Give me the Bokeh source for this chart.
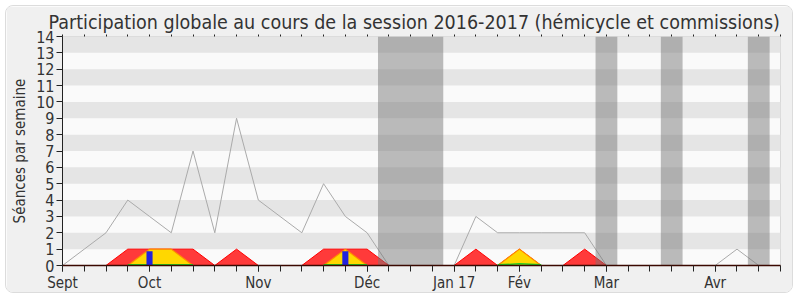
import math
from bokeh.plotting import figure
from bokeh.models import FixedTicker, LinearAxis
from bokeh.embed import file_html
from bokeh.resources import INLINE

nan = float("nan")

# ---- data (week index 0 = first week of September 2016) ----
weeks = list(range(0, 34))
month_weeks = [0, 4, 9, 14, 18, 21, 25, 30]
month_labels = ["Sept", "Oct", "Nov", "Déc", "Jan 17", "Fév", "Mar", "Avr"]

# grey line: activity of the whole assembly (séances per week)
total = [0, 1, 2, 4, 3, 2, 7, 2, 9, 4, 3, 2, 5, 3, 2, 0, 0, 0,
         0, 3, 2, 2, 2, 2, 2, 0, 0, 0, 0, 0, 0, 1, 0, 0]
# red area: présences (commissions)
presence = [0, 0, 0, 1, 1, 1, 1, 0, 1, 0, 0, 0, 1, 1, 1, 0, 0, 0,
            0, 1, 0, 1, 0, 0, 1, 0, 0, 0, 0, 0, 0, 0, 0, 0]
# yellow area: présences hémicycle
hemicycle = [0, 0, 0, 0, 1, 1, 0, 0, 0, 0, 0, 0, 0, 1, 0, 0, 0, 0,
             0, 0, 0, 1, 0, 0, 0, 0, 0, 0, 0, 0, 0, 0, 0, 0]
# green line: small values
green = [nan, nan, nan, 0.05, 0.05, 0.05, 0.05, nan, nan, nan, nan, nan, 0.05, 0.05, 0.05, nan, nan, nan,
         nan, nan, 0.04, 0.1, 0.04, nan, nan, nan, nan, nan, nan, nan, nan, nan, nan, nan]
# blue bars: interventions
blue_weeks = [4, 13]
blue_values = [0.87, 0.87]
# holidays (grey bands, in weeks)
vac_start = [14.5, 24.5, 27.5, 31.5]
vac_end = [17.5, 25.5, 28.5, 32.5]

FONT = "DejaVu Sans Condensed"
TXT = "#333333"

p = figure(width=788, height=288, x_range=(0, 33), y_range=(0, 14),
           output_backend="svg", toolbar_location=None,
           min_border_left=56, min_border_right=14, min_border_top=30, min_border_bottom=28,
           x_axis_location=None, y_axis_location=None)
p.styles = {"margin-left": "5px", "margin-top": "5px", "border": "1px solid #dcdcdc",
            "border-radius": "8px", "overflow": "hidden"}
p.border_fill_color = "#f0f0f0"
p.background_fill_color = "#fafafa"
p.outline_line_color = "#d8d8d8"

p.title.text = "Participation globale au cours de la session 2016-2017 (hémicycle et commissions)"
p.title.text_font = FONT
p.title.text_font_size = "19.5px"
p.title.text_font_style = "normal"
p.title.text_color = TXT
p.title.align = "left"
p.title.offset = -14
p.title.standoff = 2

# axes
xaxis = LinearAxis(ticker=FixedTicker(ticks=month_weeks, minor_ticks=weeks))
xaxis.major_label_overrides = {w: lab for w, lab in zip(month_weeks, month_labels)}
xaxis.major_label_text_font = FONT
xaxis.major_label_text_font_size = "15px"
xaxis.major_label_text_color = TXT
xaxis.major_tick_out = 6
xaxis.major_tick_in = 0
xaxis.minor_tick_out = 6
xaxis.minor_tick_in = 0
xaxis.minor_tick_line_color = "#222222"
xaxis.axis_line_color = "#3a0800"
xaxis.axis_line_width = 1.5
xaxis.major_tick_line_color = "#222222"
xaxis.major_label_standoff = 2
p.add_layout(xaxis, "below")

top = LinearAxis(ticker=FixedTicker(ticks=[], minor_ticks=weeks))
top.major_label_standoff = 0
top.axis_line_color = None
top.major_tick_line_color = None
top.minor_tick_out = 2
top.minor_tick_in = 0
top.minor_tick_line_color = "#222222"
p.add_layout(top, "above")

yaxis = LinearAxis(ticker=FixedTicker(ticks=list(range(0, 15))))
yaxis.major_label_text_font = FONT
yaxis.major_label_text_font_size = "16px"
yaxis.major_label_text_color = TXT
yaxis.major_tick_out = 6
yaxis.major_tick_in = 0
yaxis.minor_tick_line_color = None
yaxis.axis_line_color = "#222222"
yaxis.major_tick_line_color = "#222222"
yaxis.major_label_standoff = 2
yaxis.axis_label = "Séances par semaine"
yaxis.axis_label_text_font = FONT
yaxis.axis_label_text_font_size = "15px"
yaxis.axis_label_text_font_style = "normal"
yaxis.axis_label_text_color = TXT
yaxis.axis_label_standoff = 4
p.add_layout(yaxis, "left")

# stripes via grid bands
p.xgrid.grid_line_color = None
p.ygrid.ticker = FixedTicker(ticks=list(range(0, 15)))
p.ygrid.grid_line_color = None
p.ygrid.band_fill_color = "#e5e5e5"
p.ygrid.band_fill_alpha = 1.0

# grey line
p.line(weeks, total, line_color="#aaaaaa", line_width=1)

# red area
p.varea(x=weeks, y1=[0] * len(weeks), y2=presence, fill_color="#ff3a3a")
p.line(weeks, presence, line_color="#ff0000", line_width=1)

# yellow area with orange edge (edge only around non-zero parts)
p.varea(x=weeks, y1=[0] * len(weeks), y2=hemicycle, fill_color="#ffd700")
edge = []
for i, v in enumerate(hemicycle):
    near = v > 0 or (i > 0 and hemicycle[i - 1] > 0) or (i < len(hemicycle) - 1 and hemicycle[i + 1] > 0)
    edge.append(v if near else nan)
p.line(weeks, edge, line_color="#ff8c00", line_width=1.2)

# green line
p.line(weeks, green, line_color="#22cc22", line_width=1.5)

# blue bars
p.vbar(x=blue_weeks, top=blue_values, bottom=0, width=0.28, fill_color="#2222dd", line_color=None)

# holiday bands
p.quad(left=vac_start, right=vac_end, bottom=0, top=14, fill_color="#767676", fill_alpha=0.48, line_color=None)

open("out.html", "w").write(file_html(p, INLINE))
